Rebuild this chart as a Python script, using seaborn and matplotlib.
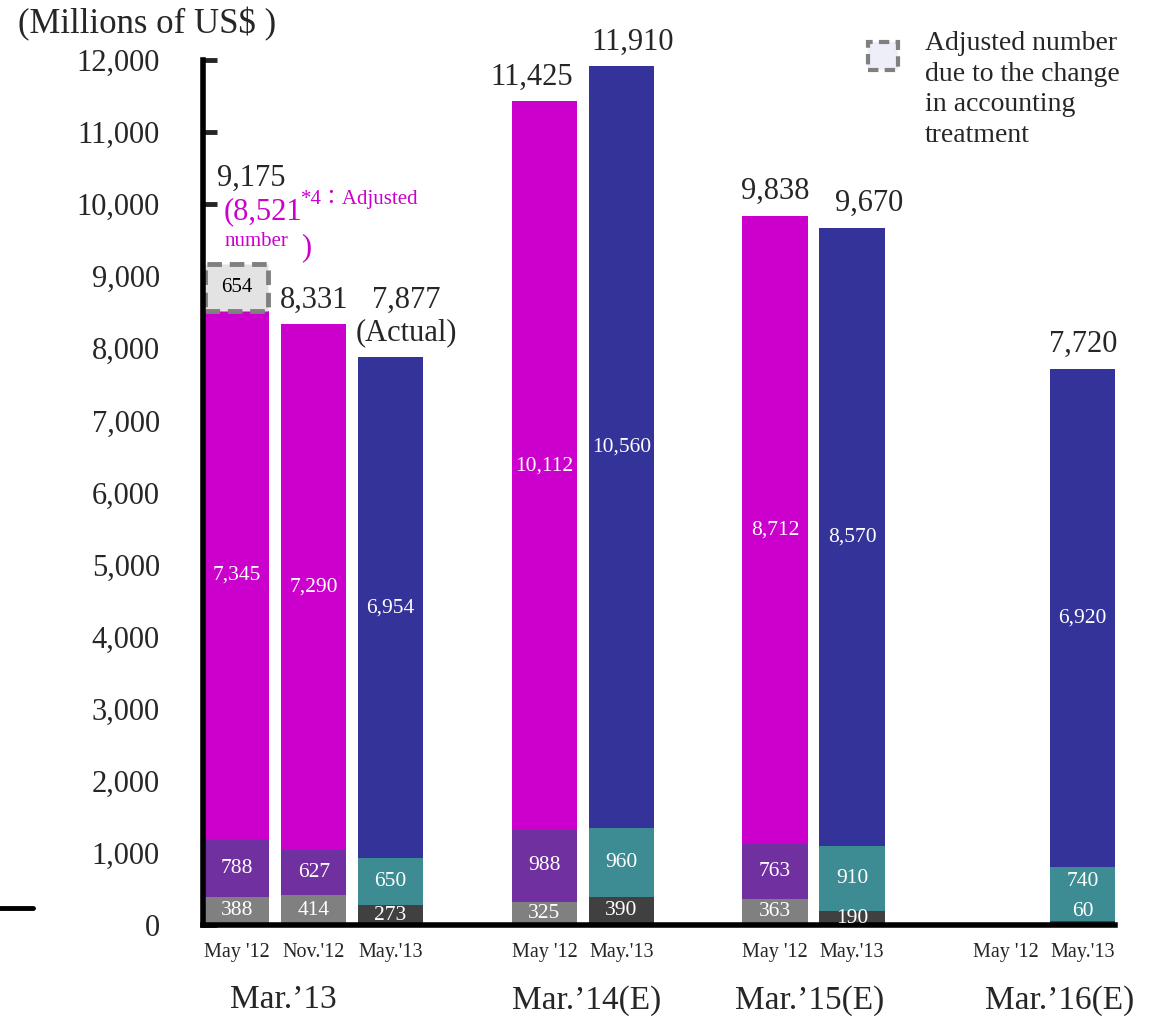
import numpy as np
import pandas as pd
import matplotlib
matplotlib.use("Agg")
import matplotlib.pyplot as plt
from matplotlib.patches import Rectangle
from matplotlib.lines import Line2D
import seaborn as sns

# --- data ---
bar_pos = [0, 1, 2, 4, 5, 7, 8, 11]
bar_kind = ["old", "old", "new", "old", "new", "old", "new", "new"]
seg_bottom = [388, 414, 273, 325, 390, 363, 190, 60]
seg_mid = [788, 627, 650, 988, 960, 763, 910, 740]
seg_top = [7345, 7290, 6954, 10112, 10560, 8712, 8570, 6920]
total_labels = ["9,175", "8,331", "7,877\n(Actual)", "11,425", "11,910", "9,838", "9,670", "7,720"]
total_dx = [0, 0, 11, -9, 8, 0, 12, 0]          # label nudges in points

adjusted_value = 654                              # dashed box on first bar

tick_pos = [0, 1, 2, 4, 5, 7, 8, 10, 11]
tick_labels = ["May '12", "Nov.'12", "May.'13", "May '12", "May.'13",
               "May '12", "May.'13", "May '12", "May.'13"]
group_labels = ["Mar.\u201913", "Mar.\u201914(E)", "Mar.\u201915(E)", "Mar.\u201916(E)"]
group_x = [0.6, 4.55, 7.45, 10.7]

yticks = np.arange(0, 12001, 1000)

pal_top = {"old": "#cc00cc", "new": "#333399"}
pal_mid = {"old": "#7030a0", "new": "#3d8c93"}
pal_bot = {"old": "#808080", "new": "#404040"}

df = pd.DataFrame({"pos": bar_pos, "kind": bar_kind,
                   "bottom": seg_bottom, "mid": seg_mid, "top": seg_top})
df["c1"] = df["bottom"]
df["c2"] = df["bottom"] + df["mid"]
df["c3"] = df["c2"] + df["top"]

sns.set_style("ticks")
plt.rcParams["font.family"] = ["Liberation Serif", "DejaVu Serif", "Noto Sans CJK JP"]

fig = plt.figure(figsize=(11.5, 10.17), dpi=100)
ax = fig.add_axes([0.1765, 0.0905, 0.7931, 0.8505])

# stacked bars: draw cumulative heights from the top down
for col, pal in [("c3", pal_top), ("c2", pal_mid), ("c1", pal_bot)]:
    sns.barplot(data=df, x="pos", y=col, hue="kind", palette=pal, native_scale=True,
                dodge=False, width=0.85, errorbar=None, legend=False, ax=ax,
                linewidth=0, saturation=1)

# adjusted number box on first bar
ax.bar(bar_pos[0], adjusted_value, bottom=df["c3"].iloc[0], width=0.82,
       facecolor="#e3e3e3", edgecolor="#808080", linestyle=(0, (3, 1.6)), linewidth=3.5)
ax.text(bar_pos[0], df["c3"].iloc[0] + adjusted_value / 2, f"{adjusted_value}",
        ha="center", va="center", fontsize=15, color="black")

# segment labels
for i, r in df.iterrows():
    yb, ym, yt = r["c1"] / 2, (r["c1"] + r["c2"]) / 2, (r["c2"] + r["c3"]) / 2
    if r["bottom"] < 150:
        yb, ym = 180, 597
    for y, v in [(yb, r["bottom"]), (ym, r["mid"]), (yt, r["top"])]:
        ax.text(r["pos"], y, f"{v:,}", ha="center", va="center",
                fontsize=15.5, color="white")

# totals
for i, r in df.iterrows():
    if i == 0:
        continue
    ax.annotate(total_labels[i], (r["pos"], r["c3"]), xytext=(total_dx[i], 7),
                textcoords="offset points", ha="center", va="bottom",
                fontsize=22, linespacing=1.15)

# first bar annotation
ax.text(-0.26, 10364, "9,175", ha="left", va="center", fontsize=22)
ax.text(-0.17, 9900, "(8,521", ha="left", va="center", fontsize=22, color="#cc00cc")
ax.text(0.84, 10060, "*4\uff1aAdjusted", ha="left", va="center", fontsize=15, color="#cc00cc")
ax.text(-0.16, 9480, "number", ha="left", va="center", fontsize=15, color="#cc00cc")
ax.text(0.84, 9400, ")", ha="left", va="center", fontsize=22, color="#cc00cc")

# axes styling
ax.set_xlim(-0.44, 11.42)
ax.set_ylim(0, 12000)
ax.set_yticks(yticks)
ax.set_yticklabels([f"{v:,}" for v in yticks])
ax.set_xticks(tick_pos)
ax.set_xticklabels(tick_labels)
ax.set_xlabel("")
ax.set_ylabel("")
ax.tick_params(axis="y", direction="in", length=10, width=3.5, labelsize=22, pad=31)
ax.tick_params(axis="x", length=0, labelsize=14.5, pad=13)
for s in ["top", "right"]:
    ax.spines[s].set_visible(False)
for s in ["left", "bottom"]:
    ax.spines[s].set_linewidth(4)
    ax.spines[s].set_color("black")

for gx, gl in zip(group_x, group_labels):
    ax.text(gx, -0.087, gl, transform=ax.get_xaxis_transform(),
            ha="center", va="center", fontsize=24)

# header and legend
fig.text(0.016, 1 - 24 / 1017, "(Millions of US$ )", ha="left", va="center", fontsize=25)
fig.add_artist(Rectangle((868 / 1150, 1 - 70 / 1017), 30 / 1150, 28 / 1017,
                         transform=fig.transFigure, facecolor="#eeeef8",
                         edgecolor="#808080", linestyle=(0, (2.5, 1.5)), linewidth=3))
fig.text(925 / 1150, 1 - 31 / 1017,
         "Adjusted number\ndue to the change\nin accounting\ntreatment",
         ha="left", va="top", fontsize=20, linespacing=1.3)

# stray mark at left edge
fig.add_artist(Line2D([0, 33 / 1150], [1 - 908 / 1017] * 2, color="black",
                      linewidth=3.5, transform=fig.transFigure))

fig.savefig("out.png", dpi=100)
